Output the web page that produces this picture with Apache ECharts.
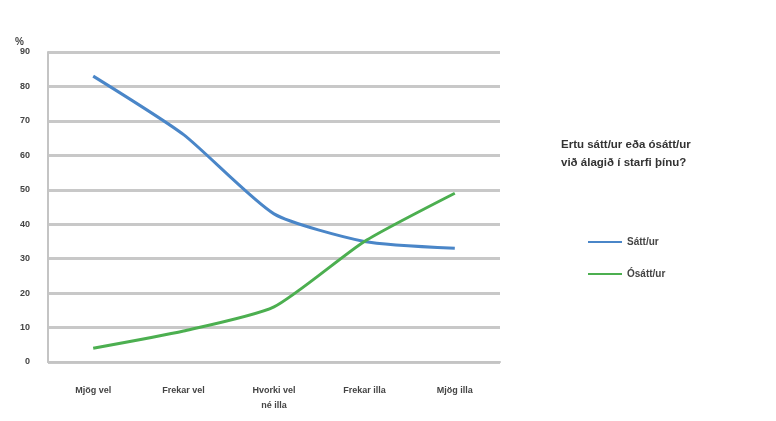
<!DOCTYPE html>
<html><head><meta charset="utf-8">
<script src="https://cdn.jsdelivr.net/npm/echarts@6/dist/echarts.min.js"></script>
<style>html,body{margin:0;padding:0;background:#fff}#c{width:776px;height:421px}</style>
</head><body><div id="c"></div>
<script>
const categories = ['Mjög vel', 'Frekar vel', 'Hvorki vel\nné illa', 'Frekar illa', 'Mjög illa'];
const sattValues = [83, 66, 43, 35, 33];
const osattValues = [4, 9, 16, 35, 49];
const seriesNames = ['Sátt/ur', 'Ósátt/ur'];
const legendTitle = 'Ertu sátt/ur eða ósátt/ur\nvið álagið í starfi þínu?';
const yUnit = '%';

const chart = echarts.init(document.getElementById('c'));
chart.setOption({
  animation: false,
  textStyle: { fontFamily: 'Liberation Sans, Arial, sans-serif' },
  title: {
    text: legendTitle, left: 556, top: 131,
    textStyle: { fontSize: 11.5, fontWeight: 'bold', color: '#333', lineHeight: 18 }
  },
  legend: {
    orient: 'vertical', left: 583, top: 232, itemGap: 22,
    itemWidth: 34, itemHeight: 10,
    icon: 'path://M0,4 L34,4 L34,6 L0,6 Z',
    textStyle: { fontSize: 10, fontWeight: 'bold', color: '#444' },
    data: seriesNames
  },
  grid: { left: 48, right: 276, top: 52, bottom: 59 },
  xAxis: {
    type: 'category', data: categories, boundaryGap: true,
    axisLine: { lineStyle: { color: '#c4c4c4', width: 2 } },
    axisTick: { show: false },
    axisLabel: { fontSize: 9, fontWeight: 'bold', color: '#444', margin: 21, interval: 0, lineHeight: 15 }
  },
  yAxis: {
    type: 'value', min: 0, max: 90, interval: 10,
    name: yUnit, nameLocation: 'end', nameGap: 4,
    nameTextStyle: { fontSize: 10, fontWeight: 'bold', color: '#444', align: 'right', padding: [0, 24, 0, 0] },
    axisLine: { show: true, lineStyle: { color: '#c4c4c4', width: 2 } },
    axisTick: { show: false },
    splitLine: { lineStyle: { color: '#c8c8c8', width: 3 } },
    axisLabel: { fontSize: 9, fontWeight: 'bold', color: '#444', margin: 18 }
  },
  series: [
    { name: seriesNames[0], type: 'line', data: sattValues, smooth: 0.2, symbol: 'none',
      lineStyle: { color: '#4a86c8', width: 3 }, itemStyle: { color: '#4a86c8' } },
    { name: seriesNames[1], type: 'line', data: osattValues, smooth: 0.2, symbol: 'none',
      lineStyle: { color: '#4caf50', width: 3 }, itemStyle: { color: '#4caf50' } }
  ]
});
</script></body></html>
